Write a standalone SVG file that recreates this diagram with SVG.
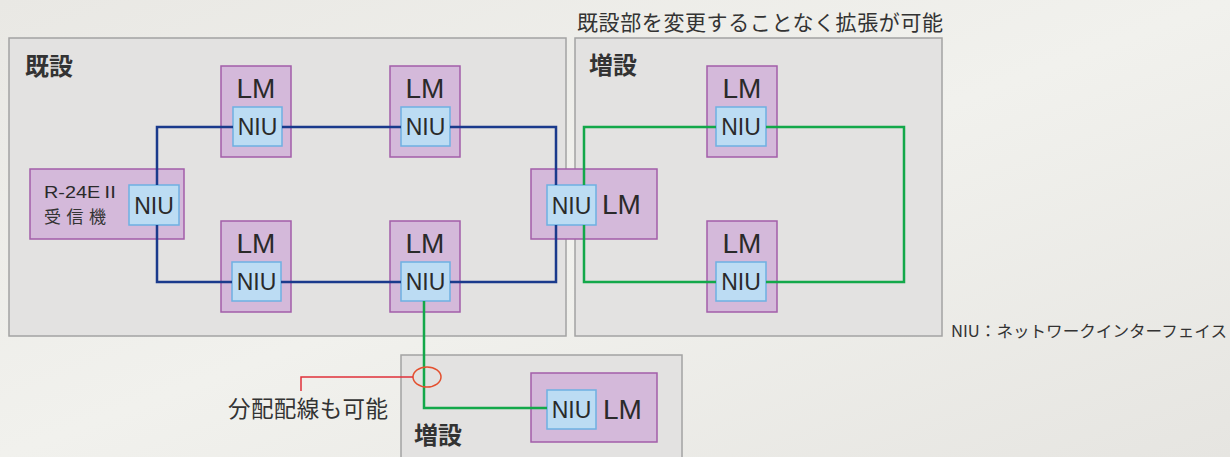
<svg xmlns="http://www.w3.org/2000/svg" width="1230" height="457" viewBox="0 0 1230 457">
<defs>
<linearGradient id="bg" x1="0" y1="0" x2="1" y2="1">
<stop offset="0" stop-color="#e9e8e4"/>
<stop offset="0.5" stop-color="#f1f1ed"/>
<stop offset="1" stop-color="#e6e5e1"/>
</linearGradient>
<style>
.panel{fill:#e3e2e1;stroke:#a3a3a3;stroke-width:1.5}
.lm{fill:#d4b9da;stroke:#a35ea9;stroke-width:1.5}
.niu{fill:#bcdcf3;stroke:#6eb0e2;stroke-width:1.5}
.jp{font-family:"Noto Sans CJK JP","Liberation Sans",sans-serif;fill:#333}
.lat{font-family:"Liberation Sans","Noto Sans CJK JP",sans-serif;fill:#2a2a2a}
.lmt{font-size:28px}
.niut{font-size:23px;text-anchor:middle}
.blue{fill:none;stroke:#1a3a8c;stroke-width:2.5}
.green{fill:none;stroke:#13a84a;stroke-width:2.5}
</style>
</defs>
<rect x="0" y="0" width="1230" height="457" fill="url(#bg)"/>

<g id="panel-existing">
<rect class="panel" x="9" y="38" width="557" height="298"/>
<text class="jp" x="25" y="75" font-size="24" font-weight="bold">既設</text>
</g>
<g id="panel-extension-right">
<rect class="panel" x="575" y="38" width="367" height="298"/>
<text class="jp" x="589" y="74" font-size="24" font-weight="bold">増設</text>
</g>
<g id="panel-extension-bottom">
<rect class="panel" x="401" y="355" width="281" height="110"/>
<text class="jp" x="414" y="444" font-size="24" font-weight="bold">増設</text>
</g>

<text id="caption-top" class="jp" x="577" y="30" font-size="21" textLength="366">既設部を変更することなく拡張が可能</text>
<text id="legend" class="jp" x="951" y="337" font-size="16" textLength="276" lengthAdjust="spacingAndGlyphs">NIU：ネットワークインターフェイス</text>

<g id="receiver">
<rect class="lm" x="30" y="169" width="154" height="70"/>
<text class="lat" x="44" y="198" font-size="16" textLength="76" lengthAdjust="spacingAndGlyphs" fill="#333">R-24EⅡ</text>
<text class="jp" x="44" y="223" font-size="17" textLength="62">受信機</text>
<rect class="niu" x="129" y="185" width="50" height="40"/>
<text class="lat niut" x="154" y="214">NIU</text>
</g>

<g id="lm-top1">
<rect class="lm" x="221" y="66" width="70" height="91"/>
<text class="lat lmt" x="256" y="98" text-anchor="middle">LM</text>
<rect class="niu" x="233" y="107" width="49" height="39"/>
<text class="lat niut" x="257.5" y="135">NIU</text>
</g>
<g id="lm-top2">
<rect class="lm" x="390" y="66" width="70" height="91"/>
<text class="lat lmt" x="425" y="98" text-anchor="middle">LM</text>
<rect class="niu" x="401" y="107" width="49" height="39"/>
<text class="lat niut" x="425.5" y="135">NIU</text>
</g>
<g id="lm-bottom1">
<rect class="lm" x="221" y="221" width="70" height="91"/>
<text class="lat lmt" x="256" y="253" text-anchor="middle">LM</text>
<rect class="niu" x="232" y="262" width="49" height="39"/>
<text class="lat niut" x="256.5" y="290">NIU</text>
</g>
<g id="lm-bottom2">
<rect class="lm" x="390" y="221" width="70" height="91"/>
<text class="lat lmt" x="425" y="253" text-anchor="middle">LM</text>
<rect class="niu" x="401" y="262" width="49" height="39"/>
<text class="lat niut" x="425.5" y="290">NIU</text>
</g>
<g id="lm-middle">
<rect class="lm" x="531" y="169" width="126" height="70"/>
<rect class="niu" x="547" y="185" width="49" height="40"/>
<text class="lat niut" x="571.5" y="214">NIU</text>
<text class="lat lmt" x="602" y="214">LM</text>
</g>
<g id="lm-right-top">
<rect class="lm" x="707" y="66" width="70" height="91"/>
<text class="lat lmt" x="742" y="98" text-anchor="middle">LM</text>
<rect class="niu" x="716" y="107" width="50" height="39"/>
<text class="lat niut" x="741" y="135">NIU</text>
</g>
<g id="lm-right-bottom">
<rect class="lm" x="707" y="221" width="70" height="91"/>
<text class="lat lmt" x="742" y="253" text-anchor="middle">LM</text>
<rect class="niu" x="716" y="262" width="50" height="39"/>
<text class="lat niut" x="741" y="290">NIU</text>
</g>
<g id="lm-branch">
<rect class="lm" x="531" y="373" width="126" height="69"/>
<rect class="niu" x="547" y="390" width="49" height="39"/>
<text class="lat niut" x="571.5" y="418">NIU</text>
<text class="lat lmt" x="603" y="419">LM</text>
</g>

<g id="connectors">
<path class="blue" d="M157 185 V127 H233"/>
<path class="blue" d="M282 127 H401"/>
<path class="blue" d="M450 127 H556 V185"/>
<path class="blue" d="M157 225 V282 H232"/>
<path class="blue" d="M281 282 H401"/>
<path class="blue" d="M450 282 H556 V225"/>
<path class="green" d="M584 185 V127 H716"/>
<path class="green" d="M766 127 H904 V282 H766"/>
<path class="green" d="M584 225 V282 H716"/>
<path class="green" d="M424 301 V408 H547"/>
</g>

<g id="callout">
<ellipse cx="427" cy="377" rx="14" ry="10" fill="none" stroke="#e4502f" stroke-width="1.5"/>
<path d="M413 377 H301 V391" fill="none" stroke="#e0303a" stroke-width="1.5"/>
<text class="jp" x="228" y="417" font-size="22.5" textLength="160">分配配線も可能</text>
</g>
</svg>
